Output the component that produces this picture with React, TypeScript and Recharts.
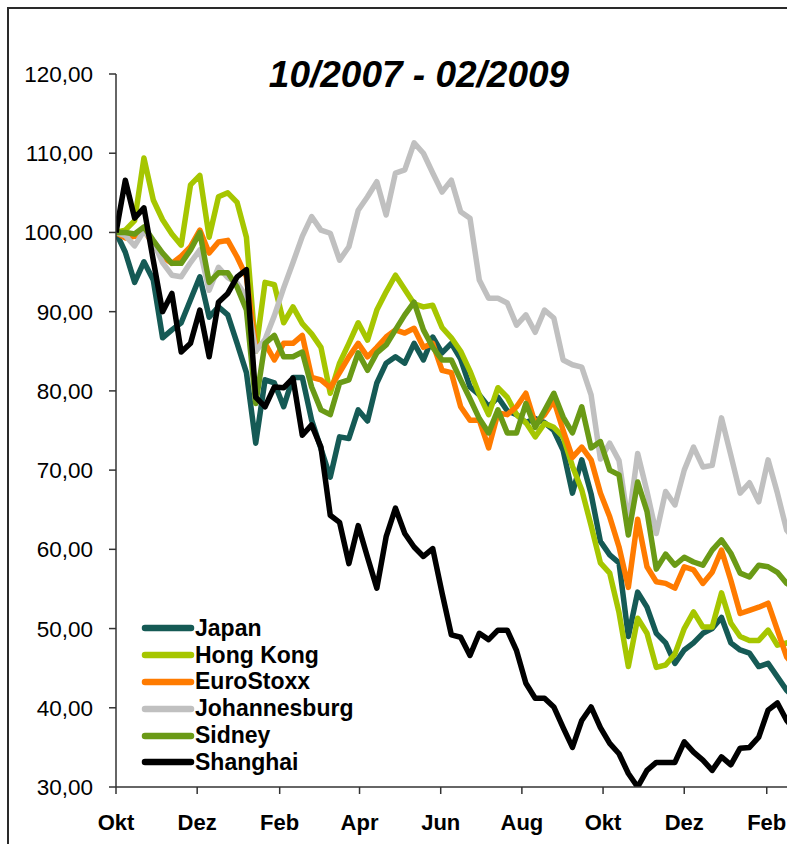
import { LineChart, Line, XAxis, YAxis } from "recharts";

// weekly index levels, start of Oct 2007 = 100
const japan = [
  100, 97.5, 93.7, 96.3, 94, 86.7, 87.7, 88.6, 91.5, 94.4, 89.3, 90.6, 89.6, 86, 82.3, 73.4,
  81.4, 81, 78, 81.7, 81.7, 76.3, 72.7, 69.1, 74.2, 74, 77.6, 76.2, 81, 83.5, 84.3, 83.5,
  86, 83.9, 86.8, 84.8, 86, 84, 80.5, 79.5, 78, 79.2, 77.5, 77, 76, 76.5, 76, 75,
  72.5, 67.1, 71.3, 67, 61, 59.3, 58.3, 49, 54.6, 52.7, 49.4, 48.2, 45.6, 47.3, 48.2, 49.4,
  50, 51.4, 48.2, 47.3, 46.9, 45.2, 45.6, 43.9, 42.2, 41,
];
const hongKong = [
  100, 100.3, 101.5, 109.4, 104.1, 101.6, 99.8, 98.4, 106, 107.2, 99.4, 104.5, 105, 103.8, 99.4, 85,
  93.7, 93.4, 88.6, 90.6, 88.5, 87.2, 85.5, 79.7, 83.5, 86, 88.6, 86.4, 90.2, 92.5, 94.6, 92.8,
  91, 90.6, 90.8, 88, 86.7, 85, 82.5, 79.5, 77, 80.4, 79.2, 77, 76, 74.2, 75.9, 75.4,
  74.2, 70.5, 67.5, 63, 58.3, 57, 52, 45.2, 51.3, 49.4, 45.1, 45.4, 46.8, 50, 52.1, 50.2,
  50.2, 54.5, 50.7, 49, 48.5, 48.5, 49.8, 47.9, 48.2, 47.5,
];
const euroStoxx = [
  100, 99.3, 99.5, 100.3, 98.5, 96.9, 96.1, 97, 98.2, 100.3, 97.4, 98.8, 99, 96.9, 94.4, 85.5,
  86, 83.9, 86, 86, 87, 81.7, 81.4, 80.4, 82.3, 84.3, 86, 84.3, 85.5, 86.8, 87.7, 87.3,
  87.9, 85.5, 86, 82.6, 82.3, 78, 76.3, 76.3, 72.8, 77.2, 77, 78, 79.7, 75.9, 77, 78.8,
  75, 71.6, 72.9, 71.3, 67.1, 64.1, 60.3, 55.2, 63.8, 57.8, 55.9, 55.7, 55.1, 57.8, 57.4, 55.7,
  57.1, 59.9, 56.1, 51.9, 52.3, 52.7, 53.2, 49.8, 46.4, 45,
];
const johannesburg = [
  100, 99.6, 98.3, 100.2, 98.8, 96.2, 94.6, 94.4, 96.2, 97.8, 92.7, 95.6, 94.3, 93.6, 91.9, 85,
  86.5, 89.5, 93, 96.2, 99.5, 102, 100.3, 99.9, 96.5, 98.2, 102.8, 104.5, 106.4, 102.2, 107.5, 107.9,
  111.3, 110, 107.5, 105.1, 106.6, 102.6, 101.8, 94, 91.7, 91.7, 91.1, 88.3, 89.6, 87.4, 90.2, 89.2,
  83.9, 83.3, 83, 79.5, 71.4, 73.4, 71.2, 63.3, 72.1, 67.3, 62, 67.3, 65.6, 70, 72.9, 70.4,
  70.6, 76.6, 71.9, 67.1, 68.4, 66, 71.3, 67.1, 62.4, 61,
];
const sidney = [
  100, 100, 99.8, 100.7, 99, 97.4, 96.1, 96.1, 97.8, 100, 93.7, 94.9, 94.9, 93.1, 90.2, 78.4,
  86, 87, 84.3, 84.3, 84.9, 80.5, 77.6, 77, 81, 81.4, 84.8, 82.6, 84.8, 85.8, 87.7, 89.6,
  91.2, 87.7, 85.5, 83.9, 83.9, 81.4, 79, 76.5, 74.7, 77.6, 74.7, 74.7, 78.4, 75.4, 77.5, 79.7,
  76.7, 74.7, 78, 72.8, 73.6, 70, 69.4, 61.8, 68.5, 64.8, 57.5, 59.4, 58, 59, 58.4, 58,
  59.9, 61.2, 59.5, 57, 56.5, 58, 57.8, 57.1, 55.7, 55,
];
const shanghai = [
  100, 106.6, 101.8, 103.1, 96.5, 90, 92.3, 84.9, 86, 90.2, 84.3, 91.2, 92.3, 94.4, 95.3, 79.2,
  78, 80.5, 80.4, 81.6, 74.4, 75.7, 72.9, 64.3, 63.4, 58.2, 63, 59, 55.1, 61.6, 65.2, 62,
  60.3, 59.1, 60.1, 54.5, 49.2, 48.9, 46.6, 49.4, 48.6, 49.8, 49.8, 47.2, 43.1, 41.2, 41.2, 40.1,
  37.5, 35, 38.4, 40.1, 37.5, 35.5, 34.2, 31.7, 30, 32.1, 33.1, 33.1, 33.1, 35.7, 34.4, 33.4,
  32.1, 33.8, 32.8, 34.9, 35, 36.3, 39.7, 40.6, 38.4, 37,
];

// days since 1 Oct 2007 for each month tick
const monthTicks = [0, 61, 123, 183, 244, 305, 366, 427, 489];
const monthLabels = ["Okt", "Dez", "Feb", "Apr", "Jun", "Aug", "Okt", "Dez", "Feb"];
const valueTicks = [30, 40, 50, 60, 70, 80, 90, 100, 110, 120];

const series = [
  { key: "Japan", values: japan, color: "#155a55" },
  { key: "Hong Kong", values: hongKong, color: "#a6c600" },
  { key: "EuroStoxx", values: euroStoxx, color: "#ff7b00" },
  { key: "Johannesburg", values: johannesburg, color: "#c0c0c0" },
  { key: "Sidney", values: sidney, color: "#6a9a16" },
  { key: "Shanghai", values: shanghai, color: "#000000" },
];

const data = japan.map((_, i) => {
  const row: Record<string, number> = { day: i * 7 };
  series.forEach((s) => {
    row[s.key] = s.values[i];
  });
  return row;
});

const FONT = '"Liberation Sans", Arial, sans-serif';

function LegendBox() {
  return (
    <div style={{ position: "absolute", left: 129, top: 606, fontFamily: FONT }}>
      {series.map((s) => (
        <div
          key={s.key}
          style={{ display: "flex", alignItems: "center", height: 26.8 }}
        >
          <svg width={57} height={10} style={{ display: "block" }}>
            <line
              x1={7}
              y1={5}
              x2={53}
              y2={5}
              stroke={s.color}
              strokeWidth={6.5}
              strokeLinecap="round"
            />
          </svg>
          <span style={{ fontSize: 23, fontWeight: 700, color: "#000", lineHeight: 1 }}>
            {s.key}
          </span>
        </div>
      ))}
    </div>
  );
}

export default function App() {
  return (
    <div
      style={{
        position: "fixed",
        left: 7,
        top: 7,
        width: 780,
        height: 837,
        overflow: "hidden",
        borderLeft: "2px solid #2a2a2a",
        borderTop: "2px solid #2a2a2a",
        background: "#fff",
        fontFamily: FONT,
      }}
    >
      <LineChart
        width={819}
        height={900}
        data={data}
        margin={{ top: 65, right: 20, left: 7, bottom: 62 }}
      >
        <XAxis
          type="number"
          dataKey="day"
          domain={[0, 520]}
          ticks={monthTicks}
          tickFormatter={(v: number) => monthLabels[monthTicks.indexOf(v)] ?? ""}
          height={60}
          stroke="#333"
          strokeWidth={1.5}
          tickSize={7}
          tickMargin={20}
          tick={{ fontSize: 22, fontWeight: 700, fill: "#000", fontFamily: FONT }}
          interval={0}
          allowDataOverflow
        />
        <YAxis
          type="number"
          domain={[30, 120]}
          ticks={valueTicks}
          tickFormatter={(v: number) => v.toFixed(2).replace(".", ",")}
          width={100}
          stroke="#333"
          strokeWidth={1.5}
          tickSize={7}
          tickMargin={16}
          tick={{ fontSize: 22.5, fill: "#000", fontFamily: FONT }}
          interval={0}
          allowDataOverflow
        />
        {series.map((s) => (
          <Line
            key={s.key}
            type="linear"
            dataKey={s.key}
            stroke={s.color}
            strokeWidth={5.5}
            strokeLinejoin="round"
            dot={false}
            activeDot={false}
            isAnimationActive={false}
          />
        ))}
      </LineChart>
      <svg
        width={780}
        height={110}
        style={{ position: "absolute", left: 0, top: 0, pointerEvents: "none" }}
      >
        <text
          x={410}
          y={78}
          textAnchor="middle"
          fontFamily={FONT}
          fontSize={37}
          fontWeight={700}
          fontStyle="italic"
          fill="#000"
        >
          10/2007 - 02/2009
        </text>
      </svg>
      <LegendBox />
    </div>
  );
}
